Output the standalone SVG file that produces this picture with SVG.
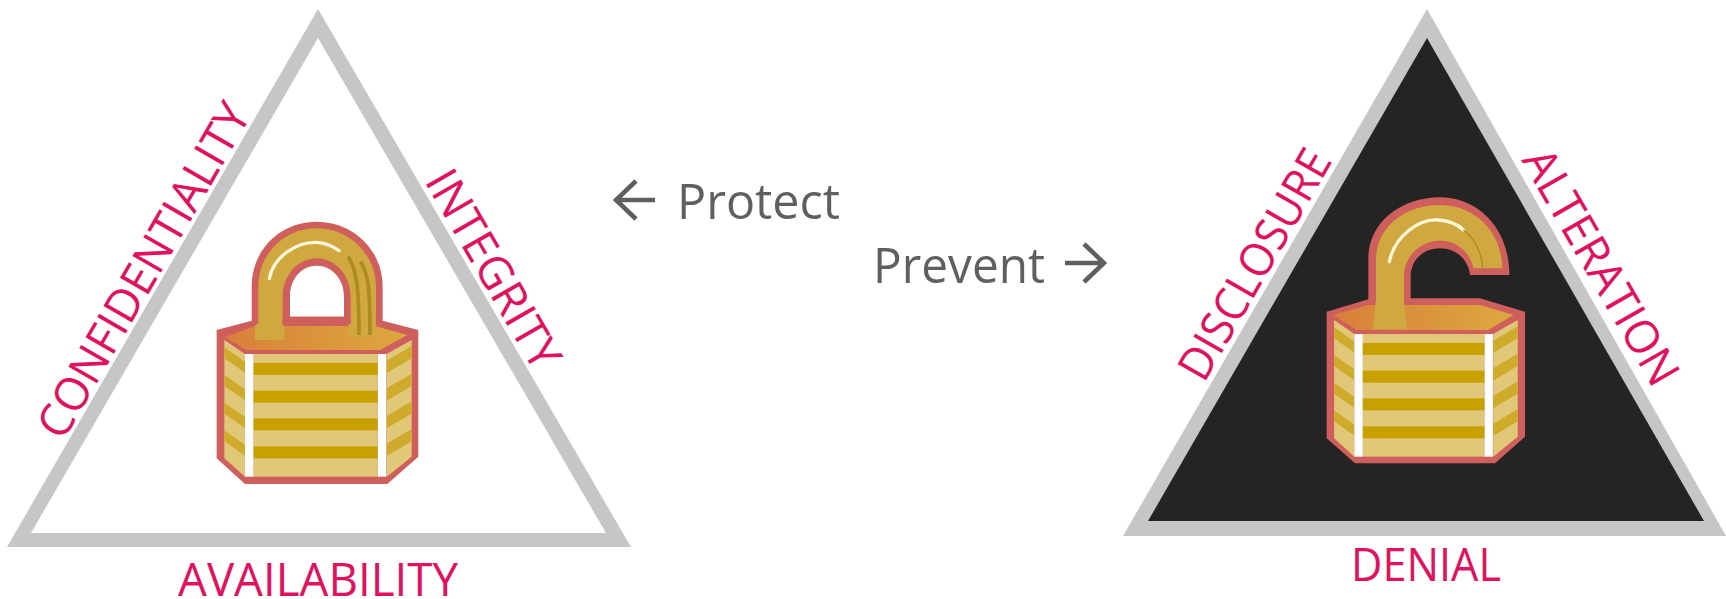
<svg xmlns="http://www.w3.org/2000/svg" width="1726" height="599" viewBox="0 0 1726 599">
<style>
.tri{stroke:none;fill:#c6c6c8}
.pink{font-family:"Open Sans","Noto Sans",sans-serif;font-size:46px;fill:#e0125f;font-weight:400}
.act{font-family:"Open Sans","Noto Sans",sans-serif;font-size:50px;fill:#5f5f5f;font-weight:400}
.arrow{fill:none;stroke:#5f5f5f;stroke-width:4.5}
.edge{fill:#cf5f5c}
.gold{fill:#cfa93f}
.hi{fill:none;stroke:#fff6d8;stroke-width:10;stroke-linecap:round}
.dk{fill:none;stroke:#ad8a22}
.pale{fill:#e1c878}
.stripe{fill:#c8a000}
.side{fill:#cfab2c}
.white{fill:#fff}
</style>
<defs>
<linearGradient id="topface" x1="0" x2="1" y1="0" y2="0"><stop offset="0" stop-color="#d97f3a"/><stop offset="1" stop-color="#dca83f"/></linearGradient>
<g id="body">
<polygon class="pale" points="103,420 165,462 165,830 103,775"/>
<polygon class="pale" points="590,462 665,420 665,770 590,830"/>
<g class="side">
<polygon points="103,442 165,485 165,518 103,475"/>
<polygon points="103,525 165,568 165,601 103,558"/>
<polygon points="103,608 165,651 165,684 103,641"/>
<polygon points="103,691 165,734 165,767 103,724"/>
<polygon points="590,482 665,438 665,475 590,519"/>
<polygon points="590,565 665,521 665,558 590,602"/>
<polygon points="590,648 665,604 665,641 590,685"/>
<polygon points="590,731 665,687 665,724 590,768"/>
</g>
<rect class="white" x="165" y="462" width="26" height="368"/>
<rect class="white" x="563" y="462" width="26" height="368"/>
<rect class="pale" x="191" y="462" width="372" height="368"/>
<g class="stripe">
<rect x="191" y="489" width="372" height="36"/>
<rect x="191" y="572" width="372" height="36"/>
<rect x="191" y="655" width="372" height="36"/>
<rect x="191" y="739" width="372" height="36"/>
</g>
</g>
</defs>
<g id="connectors"></g>
<g id="triangle-protect">
<path class="tri" fill-rule="evenodd" d="M318 9 L631 547 H7 Z M318 38 L31 533 H606 Z"/>
<text class="pink" text-anchor="middle" x="318" y="596" textLength="280" lengthAdjust="spacingAndGlyphs">AVAILABILITY</text>
<text class="pink" transform="translate(63 442) rotate(-60)" textLength="378" lengthAdjust="spacingAndGlyphs">CONFIDENTIALITY</text>
<text class="pink" transform="translate(424 181) rotate(60)" textLength="222" lengthAdjust="spacingAndGlyphs">INTEGRITY</text>
</g>
<g id="lock-closed" transform="translate(190 200) scale(.33333)">
<path class="edge" fill-rule="evenodd" d="M80 390 L185 362 V260 C185 150 270 65 380 65 C490 65 578 150 578 260 V362 L685 390 V770 L592 852 H165 L80 775 Z M300 350 H462 V290 C462 235 425 197 380 197 C335 197 300 235 300 290 Z"/>
<polygon fill="url(#topface)" points="105,412 195,378 555,378 652,405 570,450 170,450"/>
<path class="gold" d="M195 420 V378 L205 368 V260 C205 165 280 85 380 85 C480 85 558 165 558 260 V370 L555 410 H476 V372 H482 V290 C482 225 435 175 380 175 C325 175 278 225 278 290 V378 L284 378 V420 Z"/>
<path class="edge" d="M278 350 H482 V372 H278 Z"/>
<path class="hi" d="M238 236 C250 170 320 125 380 127 C410 128 430 140 447 152"/>
<path class="dk" stroke-width="11" d="M475 170 C498 210 507 250 507 405"/>
<path class="dk" stroke-width="11" d="M512 185 C535 225 540 260 540 405"/>
<use href="#body"/>
</g>
<g id="actions">
<text class="act" x="677" y="219" textLength="163" lengthAdjust="spacingAndGlyphs">Protect</text>
<path class="arrow" d="M655 200 H616 M636 181 L616 200 L636 219"/>
<text class="act" x="873" y="283" textLength="172" lengthAdjust="spacingAndGlyphs">Prevent</text>
<path class="arrow" d="M1065 263 H1104 M1084 244 L1104 263 L1084 282"/>
</g>
<g id="triangle-prevent">
<path class="tri" d="M1427 9 L1726 536 H1123 Z"/>
<path fill="#242424" d="M1427 38 L1704 521 H1148 Z"/>
<text class="pink" text-anchor="middle" x="1426" y="581" textLength="150" lengthAdjust="spacingAndGlyphs">DENIAL</text>
<text class="pink" transform="translate(1204 384) rotate(-60)" textLength="258" lengthAdjust="spacingAndGlyphs">DISCLOSURE</text>
<text class="pink" transform="translate(1521 160) rotate(60)" textLength="265" lengthAdjust="spacingAndGlyphs">ALTERATION</text>
</g>
<g id="lock-open" transform="translate(1300 180) scale(.33333)">
<path class="edge" d="M80 395 L205 358 V235 C205 130 300 52 420 52 C530 52 628 140 628 285 H510 C505 240 470 205 420 205 C370 205 332 240 332 290 V355 H540 L675 395 V770 L585 850 H165 L80 775 Z"/>
<polygon fill="url(#topface)" points="100,405 205,375 540,375 640,405 565,450 170,450"/>
<path class="gold" d="M218 448 L228 360 V240 C228 145 310 75 420 75 C520 75 605 150 607 265 H520 C510 215 470 182 420 182 C360 182 312 230 312 290 V360 L320 448 Z"/>
<path class="hi" d="M268 245 C285 165 360 115 415 120 C450 122 475 135 490 150"/>
<path class="dk" stroke-width="4" d="M490 150 C525 175 545 220 548 262"/>
<use href="#body" transform="translate(1.4 0) scale(.98 1)"/>
</g>
</svg>
